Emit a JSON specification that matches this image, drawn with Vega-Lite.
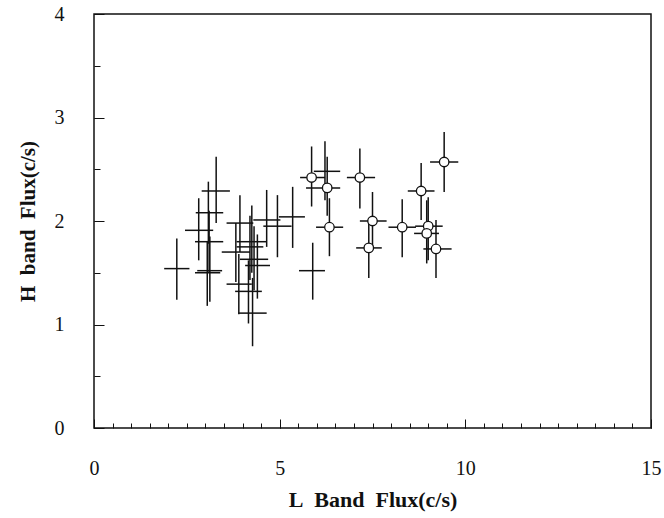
{
  "$schema": "https://vega.github.io/schema/vega-lite/v6.json",
  "autosize": {"type": "none"},
  "width": 557,
  "height": 414,
  "padding": {"left": 94, "top": 14, "right": 13, "bottom": 90},
  "background": "white",
  "config": {
    "view": {"stroke": "#111", "strokeWidth": 1.5},
    "font": "Liberation Serif",
    "axis": {"labelOverlap": false, "labelFlush": false, "domain": false, "grid": false, "tickColor": "#111", "tickWidth": 1, "labelColor": "#111", "titleColor": "#111", "labelFont": "Liberation Serif", "titleFont": "Liberation Serif"}
  },
  "data": {
    "values": [
      {"x": 2.23, "y": 1.54, "xlo": 1.89, "xhi": 2.57, "ylo": 1.24, "yhi": 1.83, "type": "cross"},
      {"x": 3.29, "y": 2.29, "xlo": 2.90, "xhi": 3.66, "ylo": 1.98, "yhi": 2.62, "type": "cross"},
      {"x": 2.82, "y": 1.91, "xlo": 2.45, "xhi": 3.21, "ylo": 1.62, "yhi": 2.22, "type": "cross"},
      {"x": 3.08, "y": 2.08, "xlo": 2.74, "xhi": 3.48, "ylo": 1.78, "yhi": 2.38, "type": "cross"},
      {"x": 3.10, "y": 1.80, "xlo": 2.72, "xhi": 3.48, "ylo": 1.50, "yhi": 2.10, "type": "cross"},
      {"x": 3.05, "y": 1.50, "xlo": 2.72, "xhi": 3.40, "ylo": 1.18, "yhi": 1.80, "type": "cross"},
      {"x": 3.12, "y": 1.52, "xlo": 2.78, "xhi": 3.45, "ylo": 1.22, "yhi": 1.85, "type": "cross"},
      {"x": 4.65, "y": 2.01, "xlo": 4.29, "xhi": 5.02, "ylo": 1.75, "yhi": 2.30, "type": "cross"},
      {"x": 4.94, "y": 1.95, "xlo": 4.56, "xhi": 5.32, "ylo": 1.65, "yhi": 2.25, "type": "cross"},
      {"x": 3.93, "y": 1.98, "xlo": 3.57, "xhi": 4.29, "ylo": 1.70, "yhi": 2.25, "type": "cross"},
      {"x": 4.25, "y": 1.80, "xlo": 3.84, "xhi": 4.65, "ylo": 1.50, "yhi": 2.15, "type": "cross"},
      {"x": 4.20, "y": 1.75, "xlo": 3.84, "xhi": 4.56, "ylo": 1.43, "yhi": 2.05, "type": "cross"},
      {"x": 3.82, "y": 1.70, "xlo": 3.44, "xhi": 4.20, "ylo": 1.41, "yhi": 1.98, "type": "cross"},
      {"x": 4.31, "y": 1.63, "xlo": 3.93, "xhi": 4.69, "ylo": 1.33, "yhi": 1.95, "type": "cross"},
      {"x": 4.40, "y": 1.57, "xlo": 4.07, "xhi": 4.74, "ylo": 1.25, "yhi": 1.87, "type": "cross"},
      {"x": 3.90, "y": 1.39, "xlo": 3.57, "xhi": 4.25, "ylo": 1.10, "yhi": 1.68, "type": "cross"},
      {"x": 4.16, "y": 1.32, "xlo": 3.80, "xhi": 4.52, "ylo": 1.01, "yhi": 1.62, "type": "cross"},
      {"x": 4.27, "y": 1.11, "xlo": 3.89, "xhi": 4.65, "ylo": 0.79, "yhi": 1.45, "type": "cross"},
      {"x": 5.35, "y": 2.04, "xlo": 4.98, "xhi": 5.68, "ylo": 1.74, "yhi": 2.33, "type": "cross"},
      {"x": 5.89, "y": 1.52, "xlo": 5.52, "xhi": 6.22, "ylo": 1.24, "yhi": 1.79, "type": "cross"},
      {"x": 6.22, "y": 2.48, "xlo": 5.92, "xhi": 6.63, "ylo": 2.20, "yhi": 2.77, "type": "cross"},
      {"x": 5.86, "y": 2.42, "xlo": 5.55, "xhi": 6.22, "ylo": 2.14, "yhi": 2.72, "type": "circle"},
      {"x": 6.28, "y": 2.32, "xlo": 5.71, "xhi": 6.63, "ylo": 2.05, "yhi": 2.62, "type": "circle"},
      {"x": 6.34, "y": 1.94, "xlo": 5.98, "xhi": 6.71, "ylo": 1.66, "yhi": 2.22, "type": "circle"},
      {"x": 7.16, "y": 2.42, "xlo": 6.81, "xhi": 7.57, "ylo": 2.12, "yhi": 2.70, "type": "circle"},
      {"x": 7.50, "y": 2.00, "xlo": 7.16, "xhi": 7.88, "ylo": 1.72, "yhi": 2.28, "type": "circle"},
      {"x": 7.40, "y": 1.74, "xlo": 7.06, "xhi": 7.75, "ylo": 1.45, "yhi": 2.01, "type": "circle"},
      {"x": 8.30, "y": 1.94, "xlo": 7.93, "xhi": 8.67, "ylo": 1.65, "yhi": 2.21, "type": "circle"},
      {"x": 8.81, "y": 2.29, "xlo": 8.45, "xhi": 9.17, "ylo": 2.01, "yhi": 2.56, "type": "circle"},
      {"x": 9.43, "y": 2.57, "xlo": 9.05, "xhi": 9.81, "ylo": 2.28, "yhi": 2.86, "type": "circle"},
      {"x": 9.00, "y": 1.95, "xlo": 8.65, "xhi": 9.39, "ylo": 1.62, "yhi": 2.23, "type": "circle"},
      {"x": 8.96, "y": 1.88, "xlo": 8.62, "xhi": 9.29, "ylo": 1.59, "yhi": 2.20, "type": "circle"},
      {"x": 9.21, "y": 1.73, "xlo": 8.87, "xhi": 9.63, "ylo": 1.45, "yhi": 2.01, "type": "circle"}
    ]
  },
  "resolve": {"axis": {"x": "independent", "y": "independent"}},
  "layer": [
    {
      "mark": {"type": "rule", "color": "#111", "strokeWidth": 1.5},
      "encoding": {
        "x": {
          "field": "xlo", "type": "quantitative",
          "scale": {"domain": [0, 15], "nice": false, "zero": false},
          "axis": {
            "orient": "bottom",
            "title": null, "labels": false,
            "values": [0,0.5,1,1.5,2,2.5,3,3.5,4,4.5,5,5.5,6,6.5,7,7.5,8,8.5,9,9.5,10,10.5,11,11.5,12,12.5,13,13.5,14,14.5,15],
            "tickSize": -5
          }
        },
        "x2": {"field": "xhi"},
        "y": {
          "field": "y", "type": "quantitative",
          "scale": {"domain": [0, 4], "nice": false, "zero": false},
          "axis": {
            "orient": "left",
            "title": null, "labels": false,
            "values": [0,0.5,1,1.5,2,2.5,3,3.5,4],
            "tickSize": -6
          }
        }
      }
    },
    {
      "mark": {"type": "rule", "color": "#111", "strokeWidth": 1.5},
      "encoding": {
        "x": {
          "field": "x", "type": "quantitative",
          "axis": {
            "orient": "bottom",
            "title": "L\u00a0 Band\u00a0 Flux(c/s)",
            "titleFontSize": 22, "titleFontWeight": "bold",
            "titlePadding": 11,
            "values": [0, 5, 10, 15],
            "format": "d",
            "labelFontSize": 20,
            "labelPadding": 39,
            "tickSize": -9
          }
        },
        "y": {
          "field": "ylo", "type": "quantitative",
          "axis": {
            "orient": "left",
            "title": "H\u00a0 band\u00a0 Flux(c/s)",
            "titleFontSize": 21, "titleFontWeight": "bold",
            "titlePadding": 16,
            "values": [0, 1, 2, 3, 4],
            "format": "d",
            "labelFontSize": 20,
            "labelPadding": 40,
            "tickSize": -10
          }
        },
        "y2": {"field": "yhi"}
      }
    },
    {
      "transform": [{"filter": "datum.type === 'circle'"}],
      "mark": {"type": "point", "filled": true, "fill": "white", "stroke": "#111", "strokeWidth": 1.3, "size": 90, "opacity": 1},
      "encoding": {
        "x": {"field": "x", "type": "quantitative", "axis": null},
        "y": {"field": "y", "type": "quantitative", "axis": null}
      }
    }
  ]
}
